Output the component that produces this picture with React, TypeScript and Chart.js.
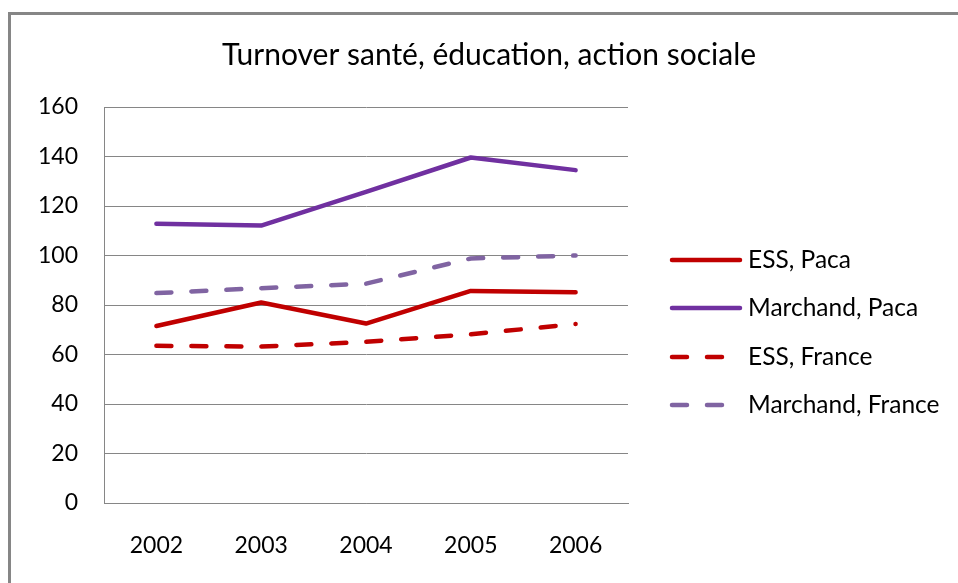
import React, { useEffect, useRef } from "react";
import { Chart, registerables } from "chart.js";

Chart.register(...registerables);

const TITLE = "Turnover santé, éducation, action sociale";
const YEARS = ["2002", "2003", "2004", "2005", "2006"];
const SERIES_NAMES = ["ESS, Paca", "Marchand, Paca", "ESS, France", "Marchand, France"];
const ESS_PACA = [71.5, 81.0, 72.5, 85.7, 85.2];
const MARCHAND_PACA = [112.8, 112.1, 125.7, 139.6, 134.5];
const ESS_FRANCE = [63.5, 63.2, 65.1, 68.2, 72.3];
const MARCHAND_FRANCE = [84.8, 86.8, 88.6, 98.8, 100.0];
const Y_MIN = 0;
const Y_MAX = 160;
const Y_STEP = 20;

const FONT = "Lato, 'Open Sans', sans-serif";
const GRID = "#868686";
const DASH = [15, 20];

const decorPlugin = {
  id: "decor",
  beforeDraw(chart: any) {
    const ctx = chart.ctx;
    ctx.save();
    ctx.fillStyle = "#ffffff";
    ctx.fillRect(0, 0, chart.width, chart.height);
    ctx.restore();
  },
  afterDraw(chart: any) {
    const ctx = chart.ctx;
    ctx.save();
    // outer frame (left and top edges visible)
    ctx.strokeStyle = GRID;
    ctx.lineWidth = 3;
    ctx.beginPath();
    ctx.moveTo(9.5, chart.height + 5);
    ctx.lineTo(9.5, 13.5);
    ctx.lineTo(chart.width + 5, 13.5);
    ctx.stroke();

    // title
    ctx.fillStyle = "#000000";
    ctx.font = `30px ${FONT}`;
    ctx.textAlign = "center";
    ctx.textBaseline = "alphabetic";
    ctx.fillText(TITLE, 489, 65);

    // legend
    const ds = chart.data.datasets;
    const ys = [260, 308, 357, 405];
    ds.forEach((d: any, i: number) => {
      const y = ys[i];
      ctx.strokeStyle = d.borderColor;
      ctx.lineWidth = d.borderWidth;
      ctx.lineCap = "round";
      ctx.setLineDash(d.borderDash || []);
      ctx.beginPath();
      ctx.moveTo(672, y);
      ctx.lineTo(740, y);
      ctx.stroke();
      ctx.setLineDash([]);
      ctx.fillStyle = "#000000";
      ctx.font = `24.5px ${FONT}`;
      ctx.textAlign = "left";
      ctx.textBaseline = "middle";
      ctx.fillText(d.label, 748, y);
    });
    ctx.restore();
  },
};

export default function App() {
  const ref = useRef<HTMLCanvasElement | null>(null);
  useEffect(() => {
    if (!ref.current) return;
    const mk = (label: string, data: number[], color: string, dash?: number[]) => ({
      label,
      data,
      borderColor: color,
      backgroundColor: color,
      borderWidth: 4.5,
      borderDash: dash || [],
      borderCapStyle: "round",
      borderJoinStyle: "round",
      pointRadius: 0,
      pointHoverRadius: 0,
      tension: 0,
      fill: false,
    });
    const chart = new Chart(ref.current, {
      type: "line",
      data: {
        labels: YEARS,
        datasets: [
          mk(SERIES_NAMES[0], ESS_PACA, "#C00000"),
          mk(SERIES_NAMES[1], MARCHAND_PACA, "#7030A0"),
          mk(SERIES_NAMES[2], ESS_FRANCE, "#C00000", DASH),
          mk(SERIES_NAMES[3], MARCHAND_FRANCE, "#8064A2", DASH),
        ] as any,
      },
      options: {
        animation: false,
        responsive: false,
        maintainAspectRatio: false,
        devicePixelRatio: 1,
        layout: { padding: { left: 0, top: 107, right: 330, bottom: 0 } },
        plugins: {
          legend: { display: false },
          title: { display: false },
          tooltip: { enabled: false },
        },
        scales: {
          x: {
            offset: true,
            grid: { display: false, drawTicks: false },
            border: { display: true, color: GRID, width: 1 },
            ticks: { color: "#000", font: { family: FONT, size: 23 }, padding: 29, maxRotation: 0 },
            afterFit: (s: any) => {
              s.height = 80;
            },
          },
          y: {
            min: Y_MIN,
            max: Y_MAX,
            grid: { color: GRID, lineWidth: 1, drawTicks: false },
            border: { display: true, color: GRID, width: 1 },
            ticks: { stepSize: Y_STEP, color: "#000", font: { family: FONT, size: 23 }, padding: 26 },
            afterFit: (s: any) => {
              s.width = 104;
            },
          },
        },
      },
      plugins: [decorPlugin],
    });
    return () => chart.destroy();
  }, []);
  return (
    <div style={{ position: "fixed", left: 0, top: 0, width: 958, height: 583, background: "#fff" }}>
      <canvas ref={ref} width={958} height={583} style={{ display: "block", width: 958, height: 583 }} />
    </div>
  );
}
